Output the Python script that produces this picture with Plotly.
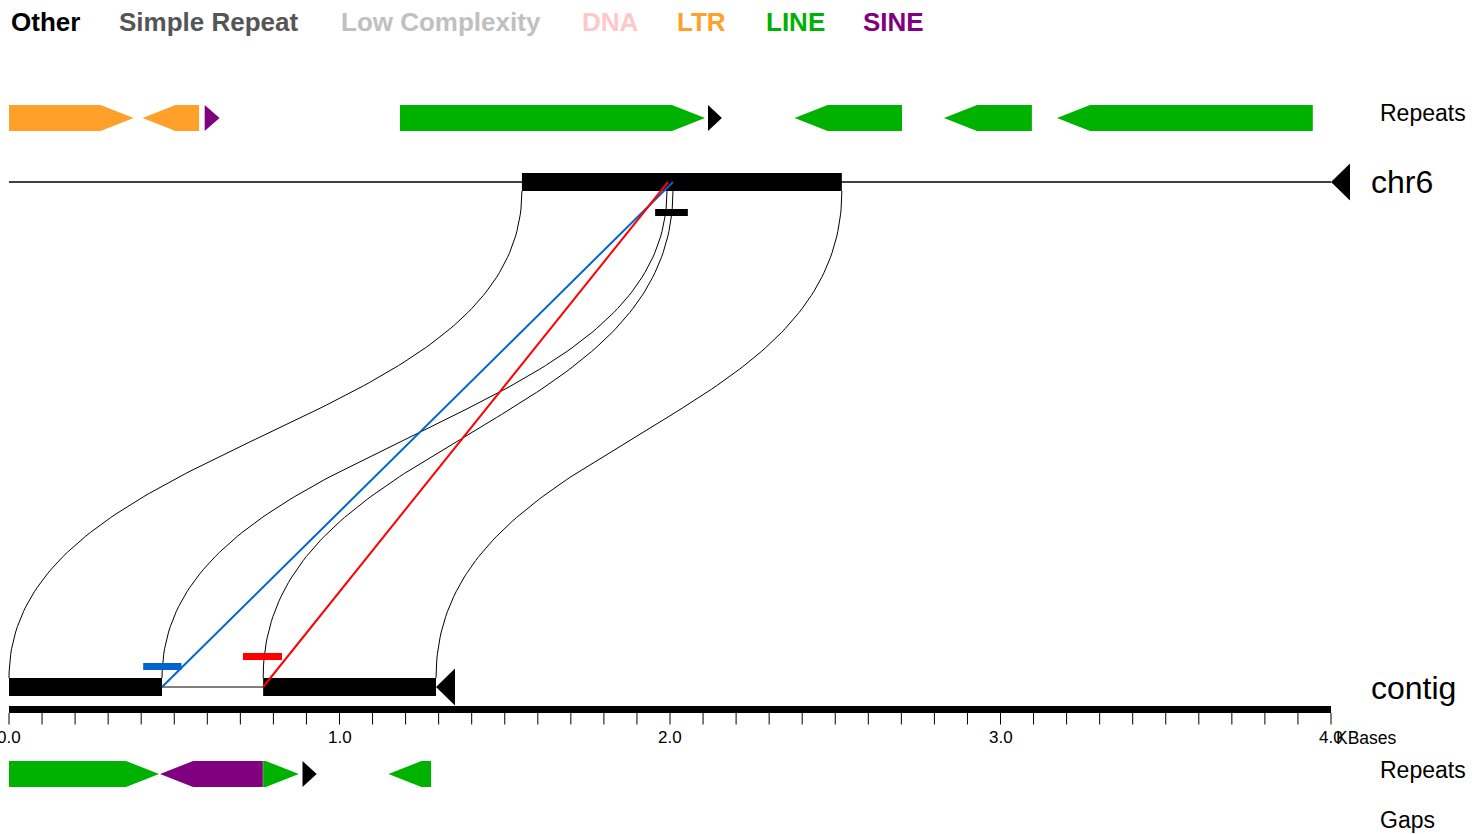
import numpy as np
import plotly.graph_objects as go

# ---------------- data ----------------
legend_names = ["Other", "Simple Repeat", "Low Complexity", "DNA", "LTR", "LINE", "SINE"]
legend_colors = ["#000000", "#555555", "#C0C0C0", "#FFC8C8", "#FFA02A", "#00B200", "#800080"]

# repeats on chr6 (kb, in display coordinates)
top_rep_start = [0.000, 0.404, 0.592, 1.183, 2.115, 2.377, 2.829, 3.171]
top_rep_end = [0.377, 0.575, 0.637, 2.106, 2.157, 2.702, 3.095, 3.945]
top_rep_strand = ["+", "-", "+", "+", "+", "-", "-", "-"]
top_rep_class = ["LTR", "LTR", "SINE", "LINE", "Other", "LINE", "LINE", "LINE"]

# repeats on contig
bot_rep_start = [0.000, 0.457, 0.769, 0.888, 1.148]
bot_rep_end = [0.454, 0.768, 0.877, 0.931, 1.277]
bot_rep_strand = ["+", "-", "+", "+", "-"]
bot_rep_class = ["LINE", "SINE", "LINE", "Other", "LINE"]

chr6_length = 4.0
contig_length = 1.292
chr6_blocks = [(1.552, 2.520)]
contig_blocks = [(0.000, 0.463), (0.769, 1.292)]

# alignment boundary links: contig position -> chr6 position
link_contig = [0.000, 0.463, 0.769, 1.292]
link_chr6 = [1.552, 1.991, 2.009, 2.520]

# coloured match lines: contig position -> chr6 position
match_contig = [0.463, 0.769]
match_chr6 = [2.009, 1.994]
match_colors = ["#0066CC", "#FF0000"]

# small feature marks
mark_blue = (0.406, 0.522)
mark_red = (0.708, 0.826)
mark_black = (1.955, 2.054)

scale_length = 4.0
minor_step = 0.1
tick_major = [0.0, 1.0, 2.0, 3.0, 4.0]
tick_labels = ["0.0", "1.0", "2.0", "3.0", "4.0"]
unit_label = "KBases"

# ---------------- layout geometry (pixels) ----------------
W, H = 1472, 834
X0_PX, X4_PX = 9, 1331
PX_PER_KB = (X4_PX - X0_PX) / 4.0
KB_PER_PX = 1.0 / PX_PER_KB
HEAD = 0.1  # arrow head length in kb

Y_TOP_REP, Y_BOT_REP, REP_H = 118, 774, 13
Y_CHR6, Y_CONTIG = 182, 687
BLOCK_H = 9
TRI_H, TRI_W = 18.5, 19 * KB_PER_PX
Y_SCALE_TOP, Y_SCALE_BOT, Y_TICK_END, Y_TICK_LABEL = 706, 713, 724.5, 737.5
FONT = "Liberation Sans, Arial, Helvetica, sans-serif"

fig = go.Figure()


def add_poly(xs, ys, color):
    fig.add_trace(go.Scatter(x=list(xs) + [xs[0]], y=list(ys) + [ys[0]], mode="lines",
                             fill="toself", fillcolor=color,
                             line=dict(width=0, color=color), hoverinfo="skip",
                             showlegend=False))


def add_line(xs, ys, color, width):
    fig.add_trace(go.Scatter(x=xs, y=ys, mode="lines", line=dict(color=color, width=width),
                             hoverinfo="skip", showlegend=False))


def add_arrow(s, e, strand, yc, color):
    lh = min(HEAD, e - s)
    if strand == "+":
        xs = [s, e - lh, e, e - lh, s]
    else:
        xs = [e, s + lh, s, s + lh, e]
    ys = [yc - REP_H, yc - REP_H, yc, yc + REP_H, yc + REP_H]
    add_poly(xs, ys, color)


cmap = dict(zip(legend_names, legend_colors))

# sequence lines
add_line([0, chr6_length], [Y_CHR6, Y_CHR6], "black", 1.3)
add_line([0, contig_length], [Y_CONTIG, Y_CONTIG], "black", 1)

# blocks
for s, e in chr6_blocks:
    add_poly([s, e, e, s], [Y_CHR6 - BLOCK_H, Y_CHR6 - BLOCK_H, Y_CHR6 + BLOCK_H, Y_CHR6 + BLOCK_H], "black")
for s, e in contig_blocks:
    add_poly([s, e, e, s], [Y_CONTIG - BLOCK_H, Y_CONTIG - BLOCK_H, Y_CONTIG + BLOCK_H, Y_CONTIG + BLOCK_H], "black")

# strand triangles (pointing left = reverse)
add_poly([chr6_length, chr6_length + TRI_W, chr6_length + TRI_W],
         [Y_CHR6, Y_CHR6 - TRI_H, Y_CHR6 + TRI_H], "black")
add_poly([contig_length, contig_length + TRI_W, contig_length + TRI_W],
         [Y_CONTIG, Y_CONTIG - TRI_H, Y_CONTIG + TRI_H], "black")

# bezier links
y_a = Y_CHR6 + BLOCK_H
y_b = Y_CONTIG - BLOCK_H
y_m = (y_a + y_b) / 2
t = np.linspace(0, 1, 120)
for xc, xt in zip(link_contig, link_chr6):
    bx = (1 - t) ** 3 * xt + 3 * (1 - t) ** 2 * t * xt + 3 * (1 - t) * t ** 2 * xc + t ** 3 * xc
    by = (1 - t) ** 3 * y_a + 3 * (1 - t) ** 2 * t * y_m + 3 * (1 - t) * t ** 2 * y_m + t ** 3 * y_b
    add_line(bx, by, "black", 1)

# coloured match lines
for xc, xt, col in zip(match_contig, match_chr6, match_colors):
    add_line([xc, xt], [Y_CONTIG, Y_CHR6], col, 2)

# small marks
for (s, e), col, yc in [(mark_blue, "#0066CC", 666.5), (mark_red, "#FF0000", 656.5),
                        (mark_black, "#000000", 212.5)]:
    add_poly([s, e, e, s], [yc - 3.5, yc - 3.5, yc + 3.5, yc + 3.5], col)

# repeat arrows
for s, e, st, c in zip(top_rep_start, top_rep_end, top_rep_strand, top_rep_class):
    add_arrow(s, e, st, Y_TOP_REP, cmap[c])
for s, e, st, c in zip(bot_rep_start, bot_rep_end, bot_rep_strand, bot_rep_class):
    add_arrow(s, e, st, Y_BOT_REP, cmap[c])

# scale bar
add_poly([0, scale_length, scale_length, 0], [Y_SCALE_TOP, Y_SCALE_TOP, Y_SCALE_BOT, Y_SCALE_BOT], "black")
n_ticks = int(round(scale_length / minor_step)) + 1
tx, ty = [], []
for i in range(n_ticks):
    xv = i * minor_step
    tx += [xv, xv, None]
    ty += [Y_SCALE_BOT, Y_TICK_END, None]
fig.add_trace(go.Scatter(x=tx, y=ty, mode="lines", line=dict(color="black", width=1),
                         hoverinfo="skip", showlegend=False))

annotations = []
for tv, tl in zip(tick_major, tick_labels):
    annotations.append(dict(x=tv, y=Y_TICK_LABEL, xref="x", yref="y", text=tl, showarrow=False,
                            xanchor="center", yanchor="middle",
                            font=dict(family=FONT, size=17, color="black")))
annotations.append(dict(x=scale_length + 3 * KB_PER_PX, y=Y_TICK_LABEL, xref="x", yref="y",
                        text=unit_label, showarrow=False, xanchor="left", yanchor="middle",
                        font=dict(family=FONT, size=17.5, color="black")))

legend_x = [9, 117, 339, 580, 675, 764, 861]
for name, col, lx in zip(legend_names, legend_colors, legend_x):
    annotations.append(dict(x=lx / W, y=22, xref="paper", yref="y", text="<b>%s</b>" % name,
                            showarrow=False, xanchor="left", yanchor="middle",
                            font=dict(family=FONT, size=26, color=col)))

side_labels = [("Repeats", 113, 23, 1378), ("chr6", 182, 32, 1369), ("contig", 688, 32, 1369),
               ("Repeats", 770, 23, 1378), ("Gaps", 820, 23, 1378)]
for txt, ly, fs, lx in side_labels:
    annotations.append(dict(x=lx / W, y=ly, xref="paper", yref="y", text=txt, showarrow=False,
                            xanchor="left", yanchor="middle",
                            font=dict(family=FONT, size=fs, color="black")))

fig.update_layout(
    width=W, height=H, margin=dict(l=0, r=0, t=0, b=0, pad=0), autosize=False,
    paper_bgcolor="white", plot_bgcolor="white",
    showlegend=False,
    xaxis=dict(range=[-X0_PX * KB_PER_PX, (W - X0_PX) * KB_PER_PX], visible=False,
               domain=[0, 1], automargin=False),
    yaxis=dict(range=[H, 0], visible=False, domain=[0, 1], automargin=False),
    annotations=annotations,
)

post = "document.body.style.margin='0';document.body.style.overflow='hidden';"
fig.write_html("out.html", config={"displayModeBar": False}, post_script=post)
